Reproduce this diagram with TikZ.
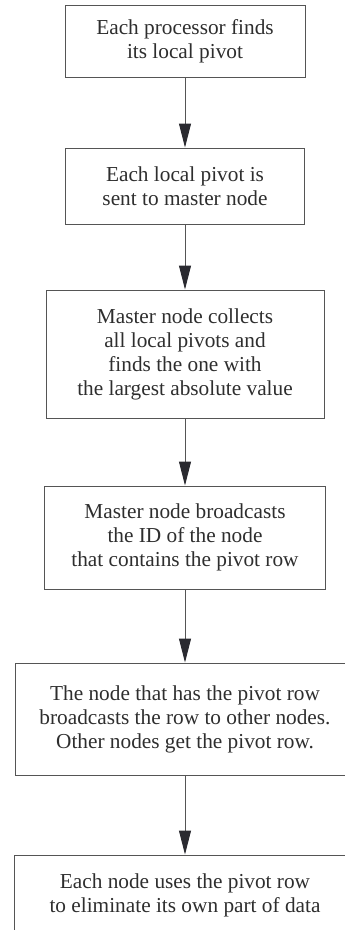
\documentclass[tikz,border=0pt]{standalone}
\usepackage{fontspec}
\setmainfont{Liberation Serif}
\newfontfamily\boxfont{Liberation Serif}
\usetikzlibrary{arrows.meta}
\definecolor{boxline}{HTML}{555555}
\definecolor{txt}{HTML}{2E2E2E}
\definecolor{tip}{HTML}{2A2A30}
\begin{document}
\begin{tikzpicture}[x=1pt,y=-1pt,
  stepbox/.style={draw=boxline, line width=1pt, inner sep=0pt, align=center,
    text=txt, font=\boxfont\fontsize{21.3}{24}\selectfont},
  flow/.style={draw=boxline, line width=1pt, -{Triangle[length=24pt,width=12pt,fill=tip,color=tip]}}]
\useasboundingbox (0,0) rectangle (345,930);
\node[stepbox, minimum width=240pt, minimum height=72pt] (b1) at (185,41)
  {Each processor finds\\its local pivot};
\node[stepbox, minimum width=239pt, minimum height=76pt] (b2) at (185,186)
  {Each local pivot is\\sent to master node};
\node[stepbox, minimum width=278pt, minimum height=128pt] (b3) at (185,354)
  {Master node collects\\all local pivots and\\finds the one with\\the largest absolute value};
\node[stepbox, minimum width=281pt, minimum height=103pt] (b4) at (185,537.5)
  {Master node broadcasts\\the ID of the node\\that contains the pivot row};
\node[stepbox, minimum width=340pt, minimum height=112pt] (b5) at (185,719)
  {The node that has the pivot row\\broadcasts the row to other nodes.\\Other nodes get the pivot row.};
\node[stepbox, minimum width=342pt, minimum height=80pt] (b6) at (185,895)
  {Each node uses the pivot row\\to eliminate its own part of data};
\draw[flow] (b1) -- (b2);
\draw[flow] (b2) -- (b3);
\draw[flow] (b3) -- (b4);
\draw[flow] (b4) -- (b5);
\draw[flow] (b5) -- (b6);
\end{tikzpicture}
\end{document}
